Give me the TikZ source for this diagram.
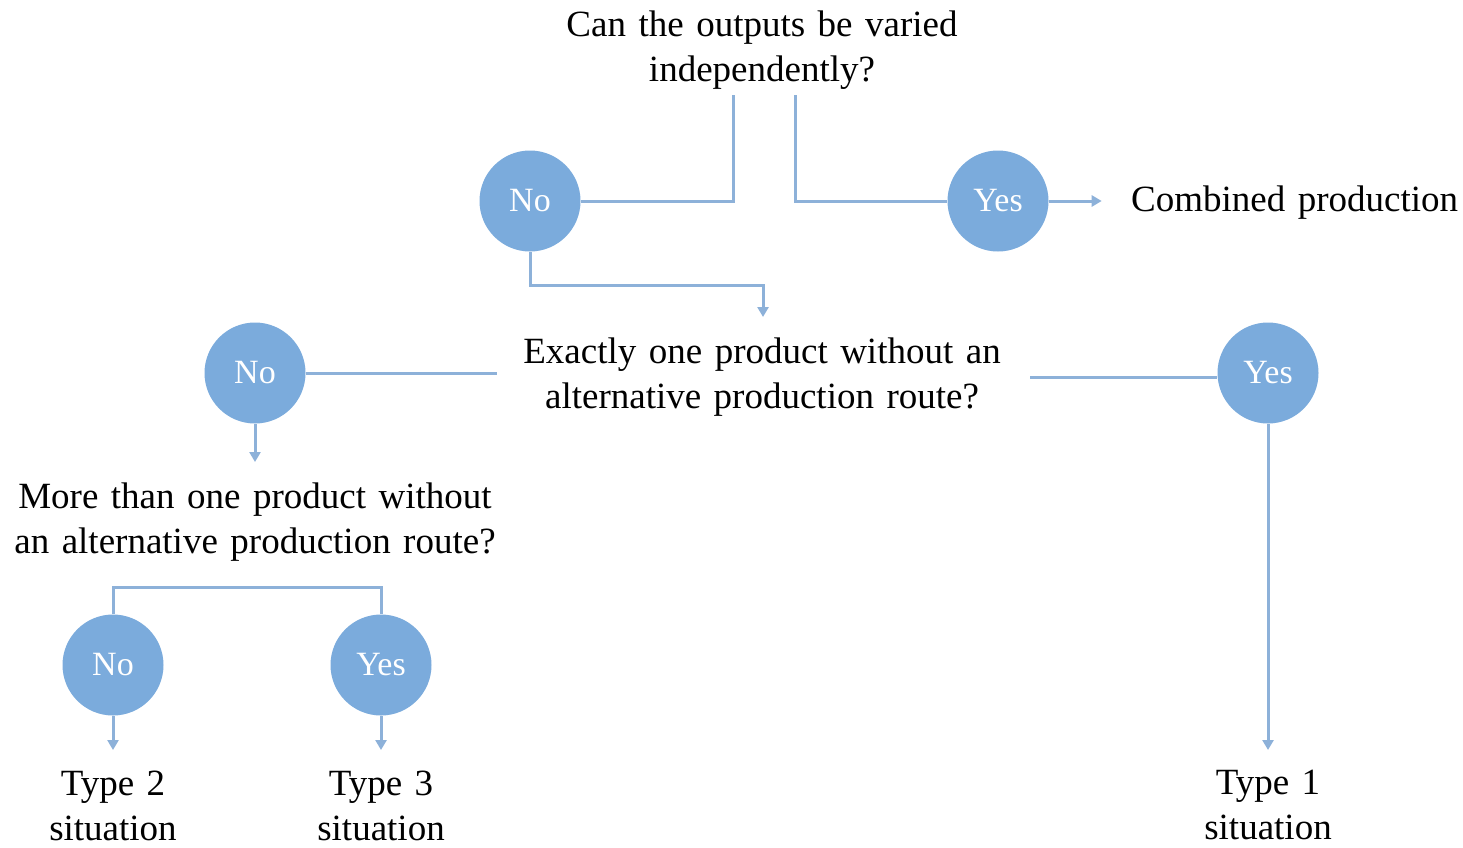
\documentclass[tikz,border=0pt]{standalone}
\usepackage{fontspec}
\setmainfont[WordSpace=1.35]{Liberation Serif}
\usetikzlibrary{arrows.meta}
\definecolor{disc}{HTML}{7BABDC}
\definecolor{wire}{HTML}{8DB1D9}
\tikzset{
  answer/.style={circle, fill=disc, minimum size=101pt, inner sep=0pt,
    text=white, font=\fontsize{34}{40}\selectfont},
  question/.style={align=center, inner sep=0pt, font=\fontsize{37}{45}\selectfont},
  wireline/.style={draw=wire, line width=3pt},
  wirearrow/.style={wireline, -{Triangle[width=11pt,length=10pt]}},
}
\begin{document}
\begin{tikzpicture}[x=1pt, y=-1pt]
\useasboundingbox (0,0) rectangle (1463,847);

% questions
\node[question] (q1) at (762,50) {Can the outputs be varied\\independently?};
\node[question] (q2) at (762,377) {Exactly one product without an\\alternative production route?};
\node[question] (q3) at (255,522) {More than one product without\\an alternative production route?};

% answers
\node[answer] (n1) at (530,201) {No};
\node[answer] (y1) at (998,201) {Yes};
\node[answer] (n2) at (255,373) {No};
\node[answer] (y2) at (1268,373) {Yes};
\node[answer] (n3) at (113,665) {No};
\node[answer] (y3) at (381,665) {Yes};

% outcomes
\node[question, anchor=west] (comb) at (1131,203) {Combined production};
\node[question, anchor=north] (t1) at (1268,770) {Type 1\\situation};
\node[question, anchor=north] (t2) at (113,771) {Type 2\\situation};
\node[question, anchor=north] (t3) at (381,771) {Type 3\\situation};

% connector end points
\coordinate (q1l) at (733,95);
\coordinate (q1r) at (795,95);
\coordinate (q2top) at (763,317);
\coordinate (q2l) at (497,373);
\coordinate (q2r) at (1030,377);
\coordinate (q3top) at (255,462);
\coordinate (q3bar) at (247,587);

% first split
\draw[wireline] (q1l) |- (n1.east);
\draw[wireline] (q1r) |- (y1.west);
\draw[wirearrow] (y1.east) -- ++(53,0);
\draw[wirearrow] (n1.south) |- (763,285) -- (q2top);

% second split
\draw[wireline] (n2.east) -- (q2l);
\draw[wireline] (q2r) -- (y2.west |- q2r);
\draw[wirearrow] (n2.south) -- (q3top);
\draw[wirearrow] (y2.south) -- (1268,750);

% third split
\draw[wireline] (n3.north) |- (q3bar) -| (y3.north);
\draw[wirearrow] (n3.south) -- (113,750);
\draw[wirearrow] (y3.south) -- (381,750);
\end{tikzpicture}
\end{document}
